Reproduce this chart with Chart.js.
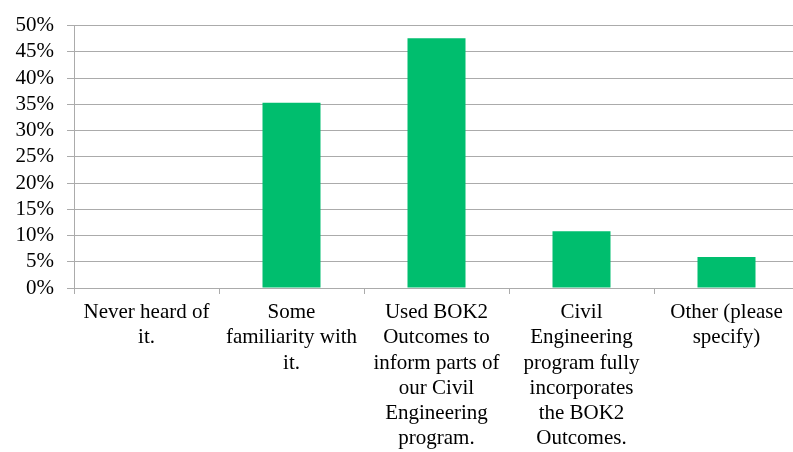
<!DOCTYPE html>
<html lang="en">
<head>
  <meta charset="UTF-8">
  <title>BOK2 Familiarity</title>
  <script src="https://cdn.jsdelivr.net/npm/chart.js"></script>
  <style>
    html, body {
      margin: 0;
      padding: 0;
      background: #fff;
      overflow: hidden;
    }
    #wrap {
      width: 800px;
      height: 452px;
    }
  </style>
</head>
<body>
  <div id="wrap"><canvas id="chart" width="800" height="452"></canvas></div>

  <script>
    // categories (pre-wrapped the way the original shows them)
    const categories = [
      ['Never heard of', 'it.'],
      ['Some', 'familiarity with', 'it.'],
      ['Used BOK2', 'Outcomes to', 'inform parts of', 'our Civil', 'Engineering', 'program.'],
      ['Civil', 'Engineering', 'program fully', 'incorporates', 'the BOK2', 'Outcomes.'],
      ['Other (please', 'specify)']
    ];
    const percentages = [0, 35.3, 47.6, 10.8, 5.9];
    const yTicks = [0, 5, 10, 15, 20, 25, 30, 35, 40, 45, 50];

    const gridColor = '#ababab';
    const font = { family: '"Liberation Serif", "Times New Roman", serif', size: 21, lineHeight: 1.2 };

    new Chart(document.getElementById('chart'), {
      type: 'bar',
      data: {
        labels: categories,
        datasets: [{
          data: percentages,
          backgroundColor: '#00be6e',
          borderWidth: 0,
          categoryPercentage: 0.4,
          barPercentage: 1.0
        }]
      },
      options: {
        responsive: false,
        animation: false,
        layout: { padding: { left: 0, top: 22, right: 1, bottom: 0 } },
        plugins: {
          legend: { display: false },
          tooltip: { enabled: false }
        },
        scales: {
          x: {
            afterFit: axis => { axis.height = 164; },
            grid: {
              offset: true,
              drawOnChartArea: false,
              color: gridColor,
              tickColor: gridColor,
              tickLength: 6
            },
            border: { color: gridColor },
            ticks: {
              color: '#000',
              font: font,
              padding: 6,
              maxRotation: 0,
              autoSkip: false
            }
          },
          y: {
            min: 0,
            max: 50,
            afterBuildTicks: axis => {
              axis.ticks = yTicks.map(v => ({ value: v }));
            },
            afterFit: axis => { axis.width = 74; },
            grid: {
              color: gridColor,
              tickColor: gridColor,
              tickLength: 7
            },
            border: { color: gridColor },
            ticks: {
              color: '#000',
              font: font,
              padding: 13,
              autoSkip: false,
              callback: v => v + '%'
            }
          }
        }
      }
    });
  </script>
</body>
</html>
